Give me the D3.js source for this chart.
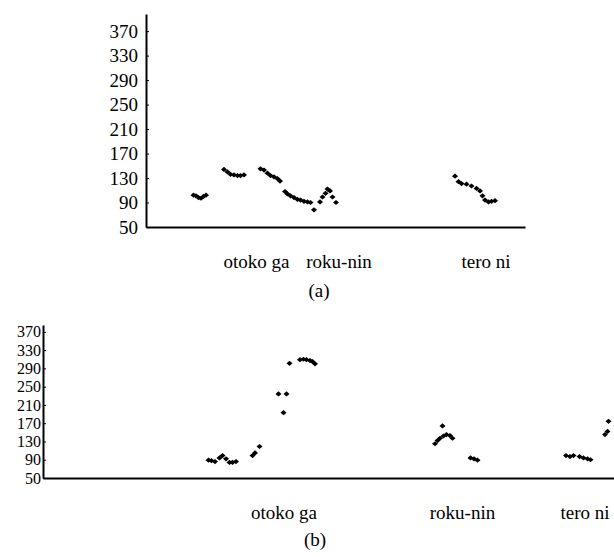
<!DOCTYPE html>
<html>
<head>
<meta charset="utf-8">
<script src="https://cdn.jsdelivr.net/npm/d3@7"></script>
<style>
  html, body { margin: 0; padding: 0; background: #fff; }
  svg { display: block; }
  text { font-family: "Liberation Serif", "Times New Roman", serif; fill: #000; }
</style>
</head>
<body>
<svg id="chart" width="614" height="557"></svg>
<script>
// ---------- data ----------
const yTicks = [50, 90, 130, 170, 210, 250, 290, 330, 370];

// Panel (a): time (ms) and F0-like values
const aTime = [95, 100, 105, 110, 115, 120,
  156, 163, 169, 176, 183, 189, 196,
  229, 236, 243, 249, 256, 263, 268,
  278, 283, 289, 296, 303, 309, 316, 323, 329,
  336,
  348, 353, 359, 363, 368, 373, 380,
  618, 625, 631, 641, 651, 661, 668, 673, 678, 685, 691, 698];
const aValue = [102, 101, 98, 97, 100, 102,
  144, 140, 136, 135, 134, 134, 135,
  145, 143, 138, 134, 132, 129, 125,
  108, 104, 101, 98, 95, 94, 92, 91, 90,
  78,
  91, 99, 105, 112, 109, 99, 90,
  133, 124, 121, 120, 117, 113, 109, 101, 94, 91, 92, 93];
const aLabels = ["otoko ga", "roku-nin", "tero ni"];
const aLabelTime = [221, 386, 680];

// Panel (b)
const bTime = [331, 337, 344, 353, 359, 366, 373, 379, 386,
  419, 424, 433,
  471, 481, 487,
  493,
  514, 521, 527, 534, 539, 544,
  784, 789, 794, 799, 801, 807, 814, 819,
  855, 862, 869,
  1046, 1054, 1061, 1073, 1081, 1089, 1095,
  1124, 1129, 1131];
const bValue = [89, 88, 86, 94, 99, 92, 84, 84, 86,
  99, 105, 119,
  234, 193, 234,
  301,
  309, 310, 309, 307, 305, 300,
  125, 132, 137, 164, 142, 145, 143, 137,
  94, 92, 89,
  99, 97, 99, 97, 94, 92, 90,
  145, 152, 174];
const bLabels = ["otoko ga", "roku-nin", "tero ni"];
const bLabelTime = [482, 839, 1084];

const captions = ["(a)", "(b)"];

// ---------- drawing ----------
const svg = d3.select("#chart");
const diamond = "M-3,0L0,-2.6L3,0L0,2.6Z";

function panel(cfg) {
  const x = d3.scaleLinear().domain(cfg.xDomain).range(cfg.xRange);
  const y = d3.scaleLinear().domain(cfg.yDomain).range(cfg.yRange);
  const g = svg.append("g");

  // y axis
  const ya = g.append("g")
    .attr("transform", `translate(${cfg.xRange[0]},0)`)
    .call(d3.axisLeft(y).tickValues(yTicks).tickSize(-3).tickSizeOuter(0).tickPadding(cfg.pad));
  ya.select(".domain").attr("stroke", "#000").attr("stroke-width", 2);
  ya.selectAll(".tick line").attr("stroke", "#000").attr("stroke-width", 1);
  ya.selectAll(".tick text")
    .style("font-family", '"Liberation Serif", "Times New Roman", serif')
    .style("font-size", cfg.tickFont).attr("fill", "#000");

  // x axis (no ticks)
  const xa = g.append("g")
    .attr("transform", `translate(0,${cfg.yRange[0]})`)
    .call(d3.axisBottom(x).tickValues([]).tickSizeOuter(0));
  xa.select(".domain").attr("stroke", "#000").attr("stroke-width", 2);

  // points
  g.append("g").selectAll("path")
    .data(cfg.t.map((t, i) => [t, cfg.v[i]]))
    .join("path")
    .attr("d", diamond)
    .attr("transform", d => `translate(${x(d[0])},${y(d[1])})`)
    .attr("fill", "#000");

  // word labels
  g.append("g").selectAll("text")
    .data(cfg.labels.map((l, i) => [l, cfg.labelT[i]]))
    .join("text")
    .attr("x", d => x(d[1]))
    .attr("y", cfg.labelY)
    .attr("text-anchor", "middle")
    .style("font-size", "19px")
    .text(d => d[0]);

  // caption
  g.append("text")
    .attr("x", cfg.capX)
    .attr("y", cfg.capY)
    .attr("text-anchor", "middle")
    .style("font-size", "19px")
    .text(cfg.caption);
}

panel({
  xDomain: [0, 758], xRange: [146, 525],
  yDomain: [50, 398], yRange: [227, 14],
  pad: 8, tickFont: "19px",
  t: aTime, v: aValue,
  labels: aLabels, labelT: aLabelTime, labelY: 268,
  caption: captions[0], capX: 319, capY: 297
});

panel({
  xDomain: [0, 1142], xRange: [43, 614],
  yDomain: [50, 385], yRange: [478, 325],
  pad: 2, tickFont: "16px",
  t: bTime, v: bValue,
  labels: bLabels, labelT: bLabelTime, labelY: 519,
  caption: captions[1], capX: 315, capY: 546
});
</script>
</body>
</html>
